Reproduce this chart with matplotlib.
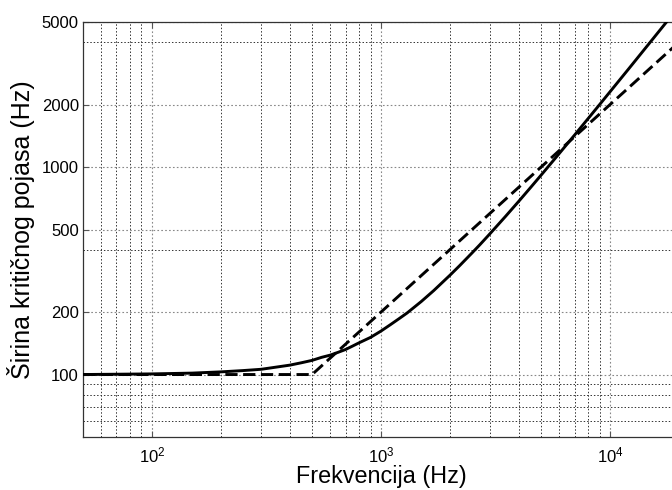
import matplotlib
matplotlib.use("Agg")
import matplotlib.pyplot as plt
from matplotlib.ticker import FixedLocator, FixedFormatter, NullFormatter

plt.rcParams['font.family'] = ['Liberation Sans', 'DejaVu Sans']
plt.rcParams['mathtext.default'] = 'regular'

# kriticna sirina pojasa (ocitano sa slike)
freq = [50, 100, 150, 200, 250, 300, 400, 450, 500, 550, 600, 650, 700, 750, 800,
        900, 1000, 1100, 1200, 1300, 1500, 1700, 2000, 2200, 2500, 2700, 3000,
        3500, 4000, 4500, 5000, 6000, 7000, 8000, 9000, 10000, 11000, 12000,
        13000, 15000, 17500, 20000]
bw = [100, 100.7, 101.6, 103, 104.5, 106, 111, 114, 117, 121, 124, 128, 132, 137, 142,
      151, 162, 174, 186, 198, 225, 254, 301, 334, 386, 422, 479,
      579, 685, 797, 914, 1162, 1426, 1706, 1999, 2306, 2624, 2953,
      3294, 4005, 4945, 5940]

# aproksimacija (isprekidana)
freq_apr = [50, 500, 20000]
bw_apr = [100, 100, 4000]

y_ticks = [100, 200, 500, 1000, 2000, 5000]
y_minor_grid = [60, 70, 80, 90, 400, 4000]
x_ticks = [100, 1000, 10000]
x_minor_grid = [m * d for d in (10, 100, 1000) for m in range(2, 10)
                if 50 <= m * d <= 20000 and m * d not in x_ticks]

fig = plt.figure(figsize=(6.72, 4.9), dpi=100)
ax = fig.add_axes([83 / 672, 53 / 490, 596 / 672, 415 / 490])

ax.plot(freq, bw, color='black', linewidth=2.1, zorder=3)
ax.plot(freq_apr, bw_apr, color='black', linewidth=2.1, linestyle=(0, (4.2, 1.9)), zorder=3)

ax.set_xscale('log')
ax.set_yscale('log')
ax.set_xlim(50, 20000)
ax.set_ylim(50, 5000)

ax.yaxis.set_major_locator(FixedLocator(y_ticks))
ax.yaxis.set_major_formatter(FixedFormatter([str(t) for t in y_ticks]))
ax.yaxis.set_minor_locator(FixedLocator(y_minor_grid))
ax.yaxis.set_minor_formatter(NullFormatter())
ax.xaxis.set_major_locator(FixedLocator(x_ticks))
ax.xaxis.set_minor_locator(FixedLocator(x_minor_grid))
ax.xaxis.set_minor_formatter(NullFormatter())

ax.grid(True, which='major', color='#888888', linestyle=(0, (1.5, 2)), linewidth=0.8)
ax.grid(True, which='minor', color='#333333', linestyle=(0, (1.5, 2)), linewidth=0.7)

ax.tick_params(which='both', direction='in', top=True, right=True, labelsize=12)
ax.tick_params(axis='y', pad=3)
ax.tick_params(axis='x', pad=6)
ax.tick_params(which='major', length=4, width=0.8, color='#555555')
ax.tick_params(which='minor', length=0)
for sp in ax.spines.values():
    sp.set_color('#333333')
    sp.set_linewidth(0.9)

ax.set_xlabel('Frekvencija (Hz)', fontsize=16.8, labelpad=0)
ax.set_ylabel('Širina kritičnog pojasa (Hz)', fontsize=18, labelpad=5)

fig.savefig('out.png', dpi=100)
